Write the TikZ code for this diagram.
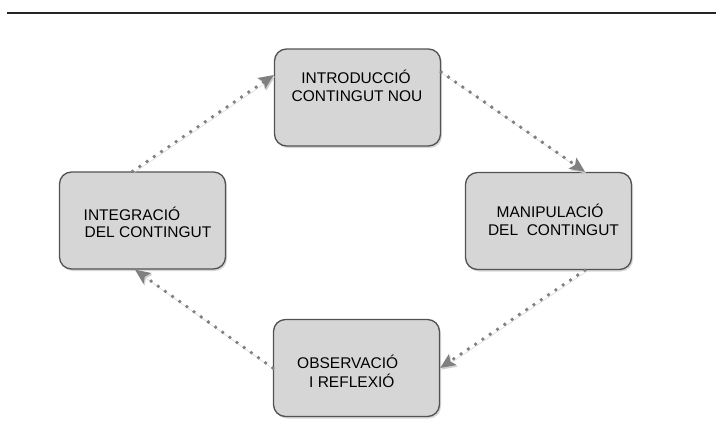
\documentclass[tikz,border=0pt]{standalone}
\usepackage{fontspec}
\setmainfont{Liberation Sans}
\usetikzlibrary{shadows,arrows.meta,calc}
\begin{document}
\begin{tikzpicture}[x=1pt,y=-1pt,
  stepbox/.style={draw=black!68, line width=1.3pt, fill=black!16, rounded corners=12pt,
    minimum width=166pt, minimum height=97pt, inner sep=0pt,
    drop shadow={shadow xshift=1.5pt, shadow yshift=-2pt, opacity=0.25, fill=black!60}},
  lbl/.style={font=\fontsize{15.5}{17}\selectfont, text=black, inner sep=0pt, anchor=base},
  flow/.style={draw=black!50, line width=3.8pt, dash pattern=on 0pt off 8.8pt, line cap=round,
    -{Stealth[length=15pt,width=13pt,inset=3pt]},
    preaction={draw=black!18, transform canvas={shift={(1.2pt,-1.6pt)}}}}
]
\useasboundingbox (0,0) rectangle (716,445);
\fill[white] (0,0) rectangle (716,445);
\draw[black!85, line width=1.2pt] (7,13) -- (716,13);

\node[stepbox] (intro) at (357.5,97.5) {};
\node[stepbox] (integ) at (142.5,220.5) {};
\node[stepbox] (manip) at (548.5,221) {};
\node[stepbox] (obs) at (356.5,368) {};

\node[lbl] (t1a) at (356,83) {INTRODUCCIÓ};
\node[lbl] (t1b) at (357,101.5) {CONTINGUT NOU};
\node[lbl, anchor=base west] (t2a) at (83.5,220) {INTEGRACIÓ};
\node[lbl, anchor=base west] (t2b) at (84.5,237) {DEL CONTINGUT};
\node[lbl] (t3a) at (550,217) {MANIPULACIÓ};
\node[lbl] (t3b) at (553.5,235) {DEL\ \ CONTINGUT};
\node[lbl, anchor=base west] (t4a) at (297,368) {OBSERVACIÓ};
\node[lbl, anchor=base west] (t4b) at (309,387) {I REFLEXIÓ};

\coordinate (a1s) at ([yshift=25.5pt]intro.east);
\coordinate (a1e) at ([xshift=36.5pt]manip.north);
\coordinate (a2s) at ([xshift=36.5pt]manip.south);
\coordinate (a3e) at ([xshift=-7.5pt]integ.south);
\coordinate (a4s) at ([xshift=-10pt]integ.north);
\coordinate (a4e) at ([yshift=22.5pt]intro.west);

\draw[flow] (a1s) -- (a1e);
\draw[flow] (a2s) -- (obs.east);
\draw[flow] (obs.west) -- (a3e);
\draw[flow] (a4s) -- (a4e);
\end{tikzpicture}
\end{document}
